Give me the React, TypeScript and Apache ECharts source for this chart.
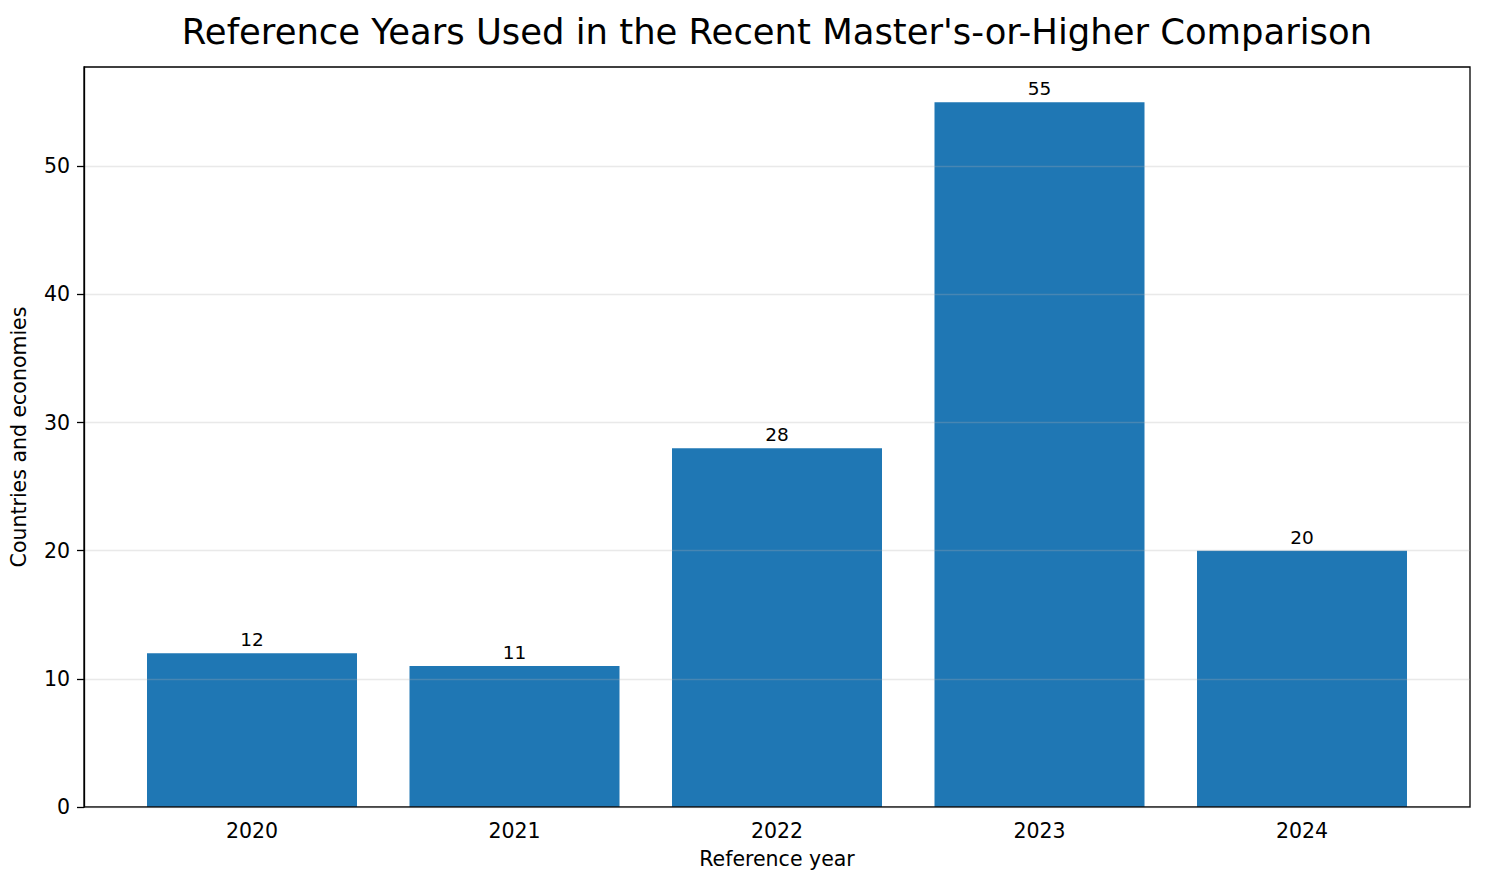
import { useRef, useEffect } from "react";
import * as echarts from "echarts";

const years = ["2020", "2021", "2022", "2023", "2024"];
const counts = [12, 11, 28, 55, 20];
const yTicks = [0, 10, 20, 30, 40, 50];
const yMax = 57.75;

function App() {
    const chartRef = useRef<HTMLDivElement | null>(null);

    useEffect(() => {
        if (!chartRef.current) return;
        document.body.style.margin = "0";
        const chart = echarts.init(chartRef.current, undefined, { renderer: "svg" });
        const font = "DejaVu Sans";

        chart.setOption({
            animation: false,
            textStyle: { fontFamily: font },
            graphic: [
                {
                    type: "text",
                    x: 777,
                    y: 31,
                    style: {
                        text: "Reference Years Used in the Recent Master's-or-Higher Comparison",
                        font: `35.4px "${font}"`,
                        fill: "#000",
                        textAlign: "center",
                        textVerticalAlign: "middle",
                    },
                },
            ],
            grid: [
                // frame + y axis
                {
                    left: 84, right: 15, top: 67, bottom: 78,
                    show: true, borderColor: "#000", borderWidth: 1.3,
                    backgroundColor: "transparent",
                    z: 3,
                },
                // bars
                { left: 120.75, right: 51.75, top: 67, bottom: 78 },
            ],
            xAxis: [
                { gridIndex: 0, type: "value", min: 0, max: 1, show: false },
                {
                    gridIndex: 1,
                    type: "category",
                    data: years,
                    name: "Reference year",
                    nameLocation: "middle",
                    nameGap: 41,
                    nameTextStyle: { fontSize: 20.5, color: "#000", fontFamily: font },
                    axisLine: { show: false },
                    axisTick: { alignWithLabel: true, length: 7, lineStyle: { color: "#000", width: 1.3 } },
                    axisLabel: { fontSize: 20.5, color: "#000", margin: 13, fontFamily: font },
                },
            ],
            yAxis: [
                {
                    gridIndex: 0,
                    type: "value",
                    min: 0,
                    max: yMax,
                    interval: 10,
                    z: 5,
                    name: "Countries and economies",
                    nameLocation: "middle",
                    nameGap: 55,
                    nameTextStyle: { fontSize: 20.5, color: "#000", fontFamily: font },
                    axisLine: { show: true, lineStyle: { color: "#000", width: 1.3 } },
                    axisTick: {
                        show: true, length: 7, customValues: yTicks,
                        lineStyle: { color: "#000", width: 1.3 },
                    },
                    axisLabel: {
                        fontSize: 20.5, color: "#000", margin: 14, fontFamily: font,
                        customValues: yTicks,
                        formatter: (v: number) => (v % 10 === 0 ? String(v) : ""),
                    },
                    splitLine: { show: true, lineStyle: { color: "rgba(176,176,176,0.28)", width: 1.3 } },
                },
                { gridIndex: 1, type: "value", min: 0, max: yMax, show: false },
            ],
            series: [
                {
                    type: "bar",
                    xAxisIndex: 1,
                    yAxisIndex: 1,
                    data: counts,
                    barWidth: 210,
                    itemStyle: { color: "#1f77b4" },
                    label: {
                        show: true,
                        position: "top",
                        distance: 4,
                        fontSize: 18.5,
                        color: "#000",
                        fontFamily: font,
                    },
                },
            ],
        });

        return () => chart.dispose();
    }, []);

    return <div ref={chartRef} style={{ width: "1485px", height: "885px" }} />;
}

export default App;
